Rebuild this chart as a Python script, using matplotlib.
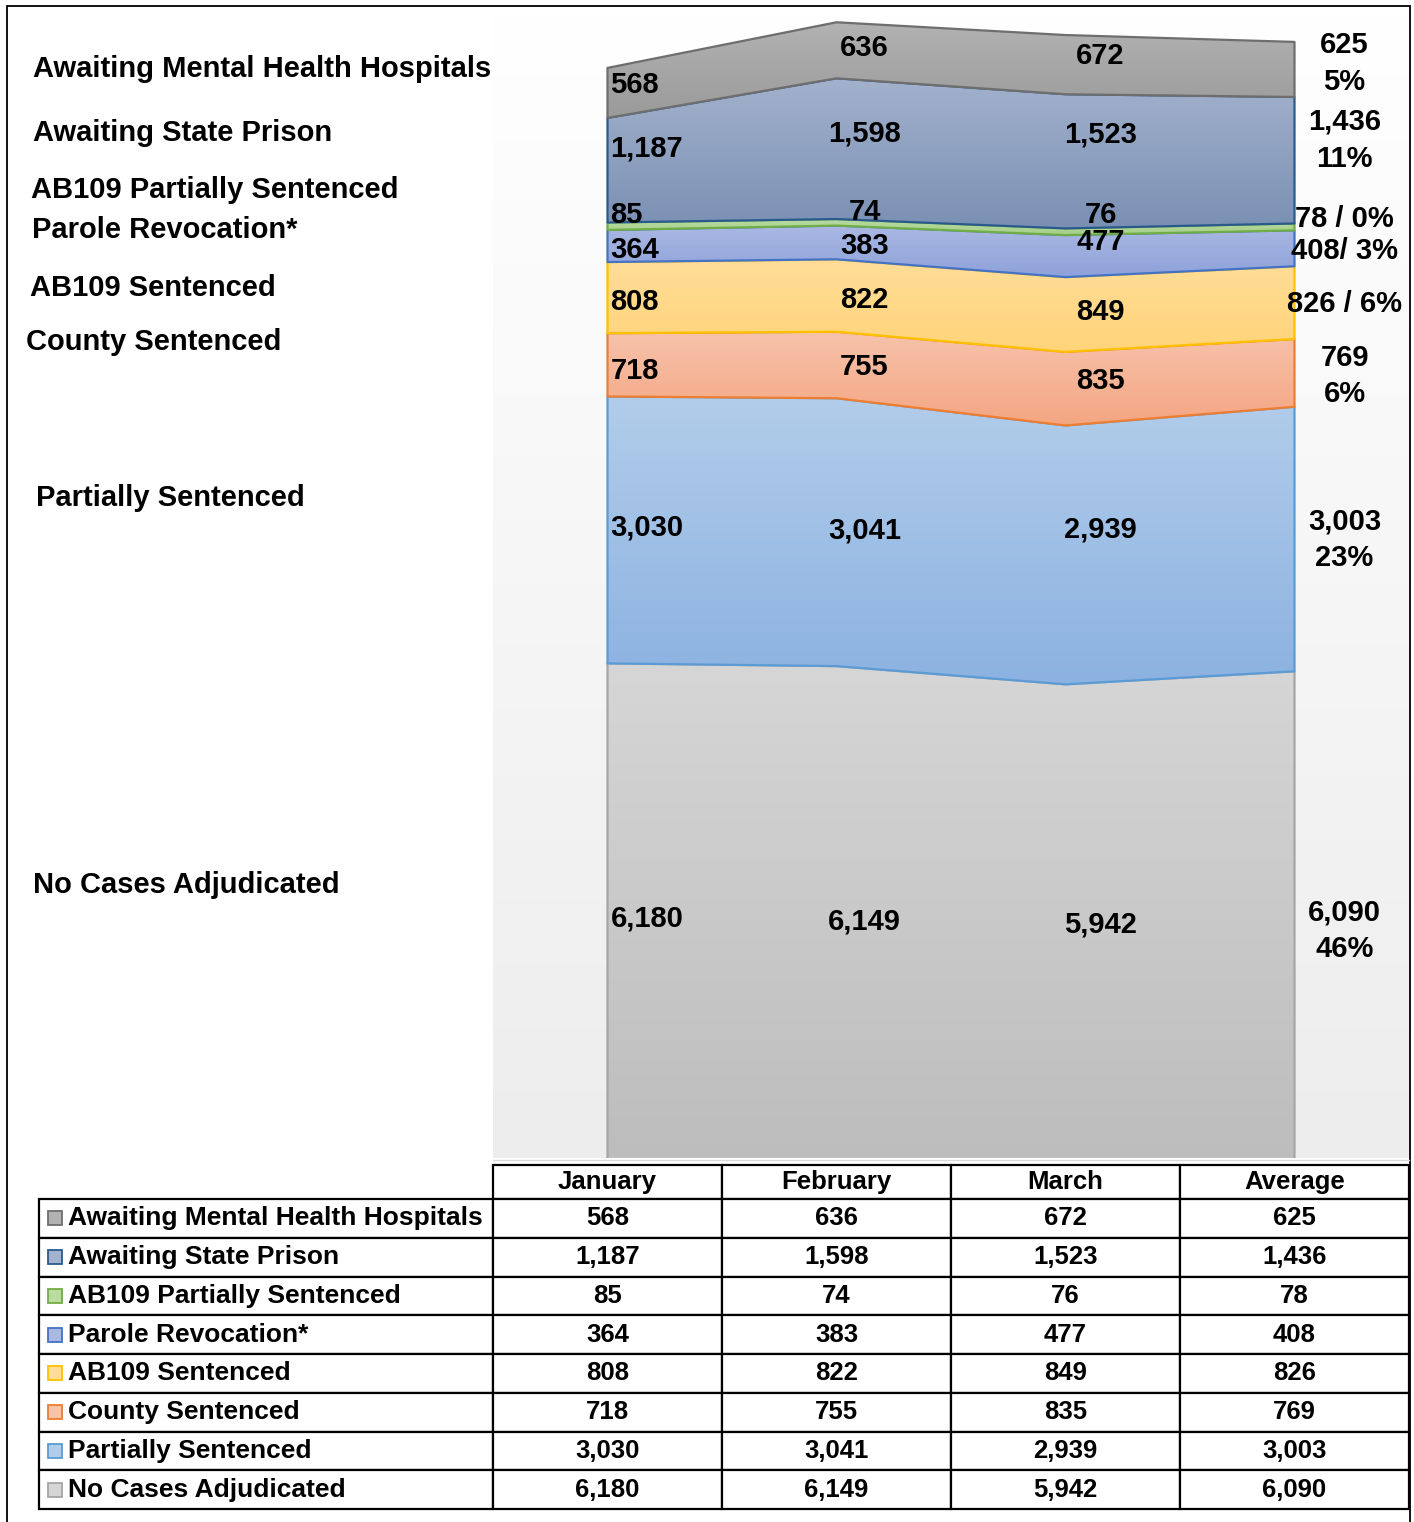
import numpy as np
import matplotlib
matplotlib.use('Agg')
import matplotlib.pyplot as plt
from matplotlib.table import Table
from matplotlib.patches import Rectangle
from matplotlib.colors import LinearSegmentedColormap
from matplotlib import font_manager

# ---- data (bottom of the stack first) ----
months = ['January', 'February', 'March', 'Average']
series = ['No Cases Adjudicated', 'Partially Sentenced', 'County Sentenced',
          'AB109 Sentenced', 'Parole Revocation*', 'AB109 Partially Sentenced',
          'Awaiting State Prison', 'Awaiting Mental Health Hospitals']
no_cases = [6180, 6149, 5942, 6090]
partially = [3030, 3041, 2939, 3003]
county = [718, 755, 835, 769]
ab109_sent = [808, 822, 849, 826]
parole = [364, 383, 477, 408]
ab109_part = [85, 74, 76, 78]
state_prison = [1187, 1598, 1523, 1436]
mental_health = [568, 636, 672, 625]
avg_pct = ['46%', '23%', '6%', '6%', '3%', '0%', '11%', '5%']
avg_sep = ['\n', '\n', '\n', ' / ', '/ ', ' / ', '\n', '\n']

# ---- styles ----
fill_top = ['#d6d6d6', '#b2cdea', '#f6c3ab', '#ffdd98', '#aab8e2', '#b9dca2', '#a3b2cd', '#b2b2b2']
fill_bot = ['#bdbdbd', '#8cb2e1', '#f4a682', '#ffd479', '#8ea2da', '#a6cf8a', '#7a90b3', '#9a9a9a']
edges = ['#a5a5a5', '#5b9bd5', '#ed7d31', '#ffc000', '#4472c4', '#70ad47', '#2a5a8c', '#6e6e6e']
# label nudges in pixels (down positive): Jan, Feb, Mar, Avg
label_dy = [[8, 9, 3, 16], [-2, -2, -25, 1], [6, 2, -8, 3], [4, 4, -3, 1],
            [4, 4, -14, 3], [-11, -10, -17, -8], [-22, -15, -27, -20], [-8, -2, -9, -6]]
label_dx = [3, 28, 35, 50]
left_label_pos = [(33, 885), (36, 498), (26, 342), (30, 288), (32, 230), (31, 190), (33, 133), (33, 69)]

available = {f.name for f in font_manager.fontManager.ttflist}
narrow = 'Liberation Sans Narrow' if 'Liberation Sans Narrow' in available else 'Liberation Sans'
plt.rcParams['font.family'] = ['Liberation Sans', 'DejaVu Sans']

W, H = 1414, 1522
fig = plt.figure(figsize=(W / 100, H / 100), dpi=100)
fig.patch.set_facecolor('white')

def fx(px):
    return px / W

def fy(py):
    return 1 - py / H

# ---- area chart ----
ax = fig.add_axes([fx(493), fy(1158), (1409 - 493) / W, (1158 - 8) / H])
ylo, yhi = 565, 13620
ax.set_xlim(0, 4)
ax.set_ylim(ylo, yhi)
ax.axis('off')

bg = LinearSegmentedColormap.from_list('bg', ['#ffffff', '#ededed'])
ax.imshow(np.linspace(0, 1, 256)[:, None], cmap=bg, extent=[0, 4, ylo, yhi],
          aspect='auto', zorder=0)

layers = np.array([no_cases, partially, county, ab109_sent, parole, ab109_part,
                   state_prison, mental_health], dtype=float)
cum = np.vstack([np.zeros(4), np.cumsum(layers, axis=0)])
x = np.arange(4) + 0.5
grad = np.linspace(0, 1, 256)[:, None]

for i in range(len(series)):
    lo, hi = cum[i], cum[i + 1]
    poly = ax.fill_between(x, lo, hi, facecolor='none', edgecolor=edges[i],
                           linewidth=1.6, zorder=3 + 2 * i)
    cmap = LinearSegmentedColormap.from_list('s%d' % i, [fill_top[i], fill_bot[i]])
    im = ax.imshow(grad, cmap=cmap, extent=[0.5, 3.5, max(lo.min(), ylo), hi.max()],
                   aspect='auto', zorder=2 + 2 * i)
    im.set_clip_path(poly.get_paths()[0], ax.transData)

    for j in range(4):
        mid = (max(lo[j], ylo) + hi[j]) / 2
        if j < 3:
            txt = f'{int(layers[i, j]):,}'
            ha = 'left' if j == 0 else 'center'
        else:
            txt = f'{int(layers[i, j]):,}' + avg_sep[i] + avg_pct[i]
            ha = 'center'
        ax.annotate(txt, (x[j], mid), xytext=(label_dx[j] * 0.72, -label_dy[i][j] * 0.72),
                    textcoords='offset points', ha=ha, va='center', fontsize=21,
                    fontweight='bold', family=narrow, linespacing=1.4,
                    zorder=30, annotation_clip=False)

# series names on the left
for name, (px, py) in zip(series, left_label_pos):
    fig.text(fx(px), fy(py), name, ha='left', va='center', fontsize=21,
             fontweight='bold', family=narrow)

# thin line under the plot area
fig.add_artist(plt.Line2D([fx(493), fx(1409)], [fy(1160), fy(1160)], color='#d9d9d9', lw=1))

# ---- data table ----
ax_t = fig.add_axes([fx(39), fy(1509), (1409 - 39) / W, (1509 - 1165) / H])
ax_t.axis('off')
tab = Table(ax_t, bbox=[0, 0, 1, 1])
label_w, col_w, head_h, row_h = 454, 229, 34, 38.75
for j, m in enumerate(months):
    tab.add_cell(0, j + 1, col_w, head_h, text=m, loc='center')
for r, i in enumerate(range(len(series) - 1, -1, -1)):
    c = tab.add_cell(r + 1, 0, label_w, row_h, text=series[i], loc='left')
    c.PAD = 29 / label_w
    for j in range(4):
        tab.add_cell(r + 1, j + 1, col_w, row_h, text=f'{int(layers[i, j]):,}', loc='center')
tab.auto_set_font_size(False)
for (r, cidx), cell in tab.get_celld().items():
    cell.set_linewidth(1.6)
    cell.set_edgecolor('black')
    t = cell.get_text()
    t.set_fontsize(19 if cidx == 0 else 18.5)
    t.set_fontweight('bold')
ax_t.add_table(tab)

# legend keys in the row-label cells
for r, i in enumerate(range(len(series) - 1, -1, -1)):
    cy = 1199 + row_h * (r + 0.5)
    fig.add_artist(Rectangle((fx(48), fy(cy + 7)), 14 / W, 14 / H,
                             transform=fig.transFigure, facecolor=fill_top[i],
                             edgecolor=edges[i], lw=1.3))

# outer frame
fig.add_artist(Rectangle((fx(7), fy(1540)), (1410 - 7) / W, (1540 - 6) / H,
                         transform=fig.transFigure, fill=False, edgecolor='black',
                         lw=1.3, clip_on=False))

fig.savefig('out.png', dpi=100)
